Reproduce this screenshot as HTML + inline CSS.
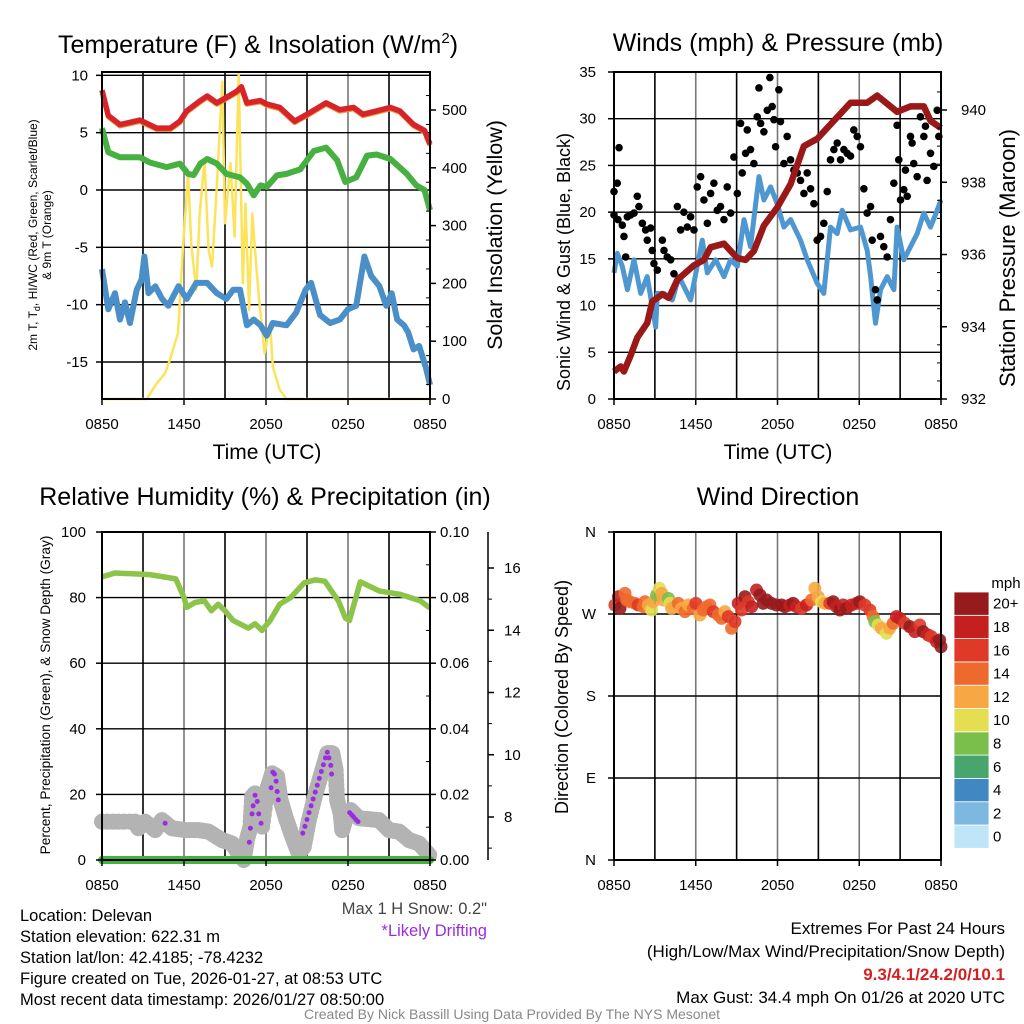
<!DOCTYPE html>
<html><head><meta charset="utf-8"><style>
html,body{margin:0;padding:0;background:#fff}
svg{display:block;font-family:"Liberation Sans",sans-serif}
</style></head><body>
<svg id="svg" width="1024" height="1024" viewBox="0 0 1024 1024" xmlns="http://www.w3.org/2000/svg">
<g id="g"></g>
</svg>
<script>
// ---------- DATA (hours since 0850 UTC) ----------
const xTickLabels = ["0850","1450","2050","0250","0850"];
const tempH = [0,0.46,1.32,2.78,4.0,5.0,5.7,6.2,7.2,7.7,8.4,9.0,9.85,10.2,10.6,11.6,12.05,13.0,14.1,15.0,16.4,17.4,18.4,19.1,20.1,21.1,21.8,22.8,23.6,24];
const tempV = [8.7,6.5,5.7,6.1,5.4,5.4,6.0,6.9,7.8,8.2,7.6,8.0,8.6,9.0,7.6,7.8,7.5,7.2,6.0,6.6,7.6,7.0,7.2,6.6,6.9,7.2,6.9,5.7,5.2,4.0];
const dewH = [0,0.46,1.32,2.78,3.5,4.73,5.7,6.3,6.7,7.2,7.7,8.4,9.1,10.1,10.6,11.1,11.6,12.05,12.8,13.5,14.5,15.5,16.4,17.2,17.8,18.6,19.4,20.1,21.1,22.3,23.0,23.6,24];
const dewV = [5.4,3.3,2.85,2.85,2.4,2.0,2.3,1.4,1.3,2.3,2.7,2.3,1.4,1.1,0.55,-0.46,0.4,0.26,1.27,1.4,1.8,3.4,3.7,2.6,0.7,1.1,3.0,3.1,2.7,1.4,0.4,0,-1.76];
const wcH = [0,0.46,0.95,1.32,1.68,2.05,2.54,2.9,3.1,3.4,3.9,4.4,4.85,5.6,6.2,6.9,7.7,8.4,9.1,9.6,10.1,10.6,11.1,11.6,12.05,12.5,13.5,14.2,14.9,15.3,15.95,16.7,17.4,18.0,18.6,19.2,19.7,20.3,20.8,21.2,21.6,22.1,22.4,22.8,23.2,23.7,24];
const wcV = [-6.9,-10.4,-9.0,-11.3,-9.8,-11.6,-8.7,-7.8,-5.8,-9.0,-8.4,-9.5,-10.1,-8.4,-9.5,-8.1,-8.1,-9.0,-9.5,-8.7,-8.7,-11.8,-11.3,-11.8,-12.7,-11.6,-11.8,-10.7,-8.7,-8.1,-10.9,-11.6,-11.3,-10.4,-10.1,-5.8,-7.5,-8.4,-10.1,-9.0,-11.3,-11.8,-12.4,-13.9,-13.6,-15.5,-17];
const solH = [0,3.27,4.0,4.6,4.95,5.56,5.93,6.3,6.54,6.9,7.15,7.5,7.8,8.05,8.4,8.8,9.0,9.4,9.7,10.0,10.3,10.5,10.76,11.0,11.25,11.5,11.9,12.3,12.5,13.0,13.5,24];
const solV = [0,0,27,44,67,114,264,390,264,189,321,413,258,229,367,549,304,408,281,563,200,338,154,321,240,171,79,131,56,16,0,0];
const xTicksH = [0,6,12,18,24];

const pressH = [0,0.49,0.73,1.22,1.71,2.44,2.81,3.55,4.03,4.65,5.87,6.6,7.09,8.07,9.05,9.66,10.27,11.0,11.98,12.96,13.94,14.91,15.89,17.36,18.58,19.32,20.78,21.76,22.74,23.23,24];
const pressV = [932.76,932.9,932.76,933.2,933.7,934.1,934.7,934.9,934.8,935.3,935.7,935.85,936.2,936.3,935.9,935.85,936.1,936.8,937.3,937.95,939.0,939.2,939.6,940.2,940.2,940.4,939.95,940.1,940.1,939.7,939.5];
const windH = [0,0.24,0.61,0.98,1.47,1.96,2.44,3.06,3.18,3.67,4.28,4.77,5.62,6.48,6.85,7.46,8.07,8.56,9.05,9.54,10.02,10.64,11.0,11.49,11.98,12.47,12.96,13.69,14.18,14.91,15.4,15.89,16.38,16.75,17.36,18.09,18.58,18.83,19.19,19.56,20.05,20.54,20.78,21.27,21.76,22.25,22.74,23.23,23.72,24];
const windV = [13.5,15.6,14.2,11.7,14.9,11.3,13.1,7.7,11.3,11.3,10.6,13.1,10.6,17,13.5,14.9,13.1,14.9,14.2,19.2,16.3,23.8,21.3,22.7,20.9,18.4,19.2,17.0,14.9,12.4,11.3,18.4,17.7,20.2,18.1,18.4,15.9,13.1,8.1,11.7,13.1,11.7,18.4,14.9,16.3,17.7,19.9,18.4,20.2,21.3];
const gustH = [0,0.24,0.37,0,0.29,0.61,0.73,0.86,0.98,1.22,1.47,1.71,1.83,2.08,2.32,2.44,2.69,2.81,2.93,3.18,3.55,3.67,3.91,4.16,4.4,4.65,4.89,5.13,5.38,5.62,5.87,6.11,6.36,6.6,6.85,7.09,7.33,7.58,7.82,8.07,8.31,8.56,8.8,9.05,9.29,9.41,9.66,9.78,10.02,10.27,10.51,10.64,10.76,11.0,11.25,11.44,11.61,11.74,11.86,12.1,12.22,12.47,12.71,12.96,13.2,13.45,13.69,13.94,14.18,14.43,14.67,14.91,15.16,15.4,15.65,15.89,16.14,16.38,16.63,16.87,17.11,17.36,17.6,17.85,18.09,18.34,18.58,18.83,18.95,19.19,19.32,19.56,19.8,20.05,20.29,20.54,20.78,20.9,21.03,21.27,21.39,21.52,21.76,21.88,22.0,22.25,22.49,22.74,22.86,22.98,23.23,23.47,23.72,23.84];
const gustV = [22.2,23.1,26.9,19.7,19.2,18.6,17.4,15.2,19.5,19.7,19.9,21.7,20.6,18.8,18.1,17.0,18.3,15.9,14.5,13.8,17.0,15.9,15.2,14.9,13.4,20.6,18.1,20.0,18.4,19.5,18.1,22.7,23.8,21.3,18.8,22.0,23.1,20.2,20.6,19.2,22.7,19.9,25.9,22.0,29.5,24.2,26.3,28.8,26.7,25.2,30.2,33.3,29.5,28.6,30.9,34.4,31.3,29.9,27.0,33.1,29.7,25.2,28.1,25.6,24.5,24.2,23.4,22.0,24.2,22.5,20.9,17.0,17.4,18.8,22.2,25.6,26.7,27.4,25.6,26.7,26.3,26.0,28.8,28.1,27.0,22.5,19.9,20.6,17.0,11.7,10.6,17.4,16.3,15.2,19.2,23.1,29.3,25.6,21.3,22.4,24.5,21.7,28.1,27.4,25.2,23.8,30.2,28.1,29.2,23.4,26.3,24.9,30.9,28.1];

const rhH = [0,0.95,3.5,5.4,6.0,6.2,6.8,7.5,8.0,8.5,9.0,9.6,10.7,11.2,11.7,12.3,13.0,13.8,14.8,15.6,16.3,17.3,17.8,18.1,18.9,20.3,21.8,23.3,24];
const rhV = [86.3,87.5,87,85.7,80,77,78.5,79,76,78,76,73,70.7,72,70,73,78,80,84.5,85.4,85,79,73.8,73,84.8,82,81,79,76.8];
const precipH = [0,24];
const precipV = [0,0];
const snowH = [0,2.42,2.66,3.15,3.89,4.38,5.11,6.09,7.07,7.8,8.78,9.51,10.0,10.37,10.6,10.86,10.98,11.2,11.47,11.72,12.08,12.45,12.82,13.06,13.43,13.92,14.4,14.77,15.14,15.63,16.12,16.49,16.85,17.1,17.2,17.46,17.58,17.95,18.2,18.8,20.27,21.0,21.74,22.47,23.2,23.94];
const snowV = [7.85,7.85,7.64,7.85,7.58,7.9,7.64,7.58,7.58,7.53,7.26,7.15,6.83,6.62,7.26,7.69,8.65,8.76,8.0,7.69,8.87,9.4,9.3,8.55,8.0,7.37,6.83,7.05,7.9,8.76,9.5,10.05,10.05,9.5,8.55,8.12,7.58,8.12,8.22,7.96,7.9,7.58,7.53,7.26,7.15,6.78];
const driftH = [4.62,10.78,10.86,10.98,11.06,11.2,11.36,11.47,11.64,12.37,12.5,12.62,12.74,12.82,12.9,14.69,14.85,15.0,15.15,15.3,15.45,15.6,15.75,15.9,16.05,16.2,16.35,16.49,16.61,16.74,16.8,18.12,18.27,18.41,18.57,18.73];
const driftV = [7.8,7.19,7.64,8.1,8.36,8.7,8.5,8.1,7.8,8.94,9.44,9.38,9.15,8.82,8.55,7.48,7.7,7.92,8.14,8.36,8.58,8.8,9.02,9.24,9.46,9.68,9.9,10.08,9.9,9.66,9.38,8.14,8.07,8.0,7.92,7.85];

const dirH = [0.07,0.32,0.44,0.81,0.93,1.17,1.54,1.78,2.15,2.27,2.52,2.76,2.89,3.13,3.33,3.5,3.62,3.99,4.11,4.23,4.47,4.72,4.96,5.21,5.45,5.82,6.01,6.31,6.55,6.8,7.04,7.29,7.65,7.9,8.14,8.39,8.63,8.88,9.12,9.36,9.61,9.85,10.1,10.46,10.71,10.95,11.2,11.56,11.93,12.3,12.54,12.91,13.15,13.4,13.77,14.13,14.5,14.74,14.99,15.23,15.48,15.84,16.09,16.33,16.58,16.82,17.07,17.43,17.8,18.04,18.41,18.78,19.02,19.14,19.39,19.63,20.0,20.24,20.49,20.73,20.98,21.34,21.71,22.08,22.44,22.69,23.06,23.3,23.67,23.9,24];
const dirV = [279.9,289,276.2,292.7,285.4,283.5,281.7,279.9,278,283.5,279.9,274.4,283.5,290.9,298.2,292.7,285.4,287.2,281.7,276.2,278,281.7,276.2,272.6,279.9,276.2,281.7,268.9,274.4,278,279.9,272.6,268.9,265.2,272.6,267.1,254.3,261.6,281.7,274.4,289,283.5,278,296.3,290.9,281.7,285.4,281.7,279.9,279.9,278,279.9,281.7,278,276.2,279.9,285.4,298.2,289,283.5,281.7,281.7,283.5,278,274.4,279.9,276.2,279.9,281.7,283.5,279.9,274.4,267.1,261.6,257.9,254.3,248.8,254.3,259.8,267.1,265.2,259.8,256.1,250.6,257.9,250.6,246.9,245.2,239.6,241.5,234];
const dirS = [16,18,20,14,14,14,14,16,14,14,12,10,12,8,10,12,12,8,10,12,12,14,12,14,12,14,16,12,14,14,14,16,14,14,12,16,14,16,18,16,20,16,18,18,20,20,20,20,20,20,20,18,20,18,16,18,14,12,12,10,12,16,20,18,20,18,20,18,18,20,16,16,14,8,10,12,10,12,14,18,18,16,20,18,16,20,18,16,18,20,20];

const speedBins = ["0","2","4","6","8","10","12","14","16","18","20+"];
const speedColors = ["#bfe6f8","#7cb8e0","#3f88c2","#48a66c","#7abf4c","#e4de50","#f7a743","#ee6a2c","#de3a27","#c52020","#971b1c"];
const footerLeft = ["Location: Delevan","Station elevation: 622.31 m","Station lat/lon: 42.4185; -78.4232","Figure created on Tue, 2026-01-27, at 08:53 UTC","Most recent data timestamp: 2026/01/27 08:50:00"];

// ---------- HELPERS ----------
const NS="http://www.w3.org/2000/svg";
const G=document.getElementById('g');
function el(tag,attrs,parent){const e=document.createElementNS(NS,tag);for(const k in attrs)e.setAttribute(k,attrs[k]);(parent||G).appendChild(e);return e;}
function txt(s,x,y,size,anchor,extra){const e=el('text',Object.assign({x:x,y:y,'font-size':size,'text-anchor':anchor||'middle',fill:'#000'},extra||{}));e.textContent=s;return e;}
function lin(d0,d1,p0,p1){return v=>p0+(v-d0)/(d1-d0)*(p1-p0);}
function pathFrom(hs,vs,sx,sy){return hs.map((h,i)=>(i?'L':'M')+sx(h).toFixed(1)+','+sy(vs[i]).toFixed(1)).join('');}

function frame(name,L,R,T,B,sx){
  const f=el('g',{});
  
  
  for(let h=3;h<24;h+=3){el('line',{x1:sx(h),x2:sx(h),y1:T,y2:B,stroke:h%6? '#000':'#777','stroke-width':1.6},f);}
  return f;
}
function box(L,R,T,B,name){const r=el('rect',{x:L,y:T,width:R-L,height:B-T,fill:'none',stroke:'#000','stroke-width':2});}
function xAxis(sx,B,name){
  const g=el('g',{});
  xTicksH.forEach((h,i)=>{el('line',{x1:sx(h),x2:sx(h),y1:B,y2:B+6,stroke:'#000','stroke-width':1.5},g);
   const t=txt(xTickLabels[i],sx(h),B+30,15,'middle');g.appendChild(t);});
}

// ================= PANEL 1: TEMPERATURE =================
{
const L=102,R=430,T=72,B=399;
const sx=lin(0,24,L,R), sy=lin(0,-15,190,362), sy2=lin(0,500,399,110);
frame('temperature-grid',L,R,T,B,sx);
[10,5,0,-5,-10,-15].forEach(v=>{el('line',{x1:L,x2:R,y1:sy(v),y2:sy(v),stroke:'#000','stroke-width':1.4});});
const sol=el('path',{d:pathFrom(solH,solV,sx,sy2),fill:'none',stroke:'#fbe35a','stroke-width':2.5,'stroke-linejoin':'round'});

const wc=el('path',{d:pathFrom(wcH,wcV,sx,sy),fill:'none',stroke:'#4a8fc8','stroke-width':6,'stroke-linejoin':'round'});

const dw=el('path',{d:pathFrom(dewH,dewV,sx,sy),fill:'none',stroke:'#46b040','stroke-width':6,'stroke-linejoin':'round'});

const t9=el('path',{d:pathFrom(tempH,tempV.map(v=>v-0.12),sx,sy),fill:'none',stroke:'#f0913a','stroke-width':5,'stroke-linejoin':'round'});

const t2=el('path',{d:pathFrom(tempH,tempV,sx,sy),fill:'none',stroke:'#d62428','stroke-width':5.5,'stroke-linejoin':'round'});

box(L,R,T,B,'temperature-plot-frame');
[10,5,0,-5,-10,-15].forEach(v=>{el('line',{x1:L-6,x2:L,y1:sy(v),y2:sy(v),stroke:'#000','stroke-width':1.5});txt(String(v),L-14,sy(v)+5,15,'end');});
[0,100,200,300,400,500].forEach(v=>{el('line',{x1:R,x2:R+6,y1:sy2(v),y2:sy2(v),stroke:'#000','stroke-width':1.5});txt(String(v),R+12,sy2(v)+5,15,'start');});
for(let v=25;v<560;v+=50){el('line',{x1:R-4,x2:R,y1:sy2(v),y2:sy2(v),stroke:'#000','stroke-width':1});}
xAxis(sx,B,'temperature-x-axis');
const tt=txt('Temperature (F) & Insolation (W/m',258,53,25,'middle');

const sup=el('tspan',{dy:-10,'font-size':15},tt);sup.textContent='2';
const cp=el('tspan',{dy:10},tt);cp.textContent=')';
txt('Time (UTC)',267,459,21,'middle');
const yl=el('text',{transform:'translate(37,235) rotate(-90)','font-size':12,'text-anchor':'middle'});

const a1=el('tspan',{},yl);a1.textContent='2m T, T';
const a2=el('tspan',{dy:3,'font-size':9},yl);a2.textContent='d';
const a3=el('tspan',{dy:-3},yl);a3.textContent=', HI/WC (Red, Green, Scarlet/Blue)';
const yl2=el('text',{transform:'translate(51,235) rotate(-90)','font-size':12,'text-anchor':'middle'});yl2.textContent='& 9m T (Orange)';
const yr=el('text',{transform:'translate(502,235) rotate(-90)','font-size':21.5,'text-anchor':'middle'});yr.textContent='Solar Insolation (Yellow)';

}

// ================= PANEL 2: WINDS =================
{
const L=614,R=941,T=72,B=399;
const sx=lin(0,24,L,R), sy=lin(0,35,399,72), sp=lin(932,940,399,110);
frame('winds-grid',L,R,T,B,sx);
[5,10,15,20,25,30,35].forEach(v=>{el('line',{x1:L,x2:R,y1:sy(v),y2:sy(v),stroke:'#000','stroke-width':1.4});});
const w=el('path',{d:pathFrom(windH,windV,sx,sy),fill:'none',stroke:'#4e97d0','stroke-width':5,'stroke-linejoin':'round'});

gustH.forEach((h,i)=>{const c=el('circle',{cx:sx(h),cy:sy(gustV[i]),r:3.8,fill:'#000'});
 
 });
const p=el('path',{d:pathFrom(pressH,pressV,sx,sp),fill:'none',stroke:'#9b1818','stroke-width':6.5,'stroke-linejoin':'round'});

box(L,R,T,B,'winds-plot-frame');
[0,5,10,15,20,25,30,35].forEach(v=>{el('line',{x1:L-6,x2:L,y1:sy(v),y2:sy(v),stroke:'#000','stroke-width':1.5});txt(String(v),L-18,sy(v)+5,15,'end');});
[932,934,936,938,940].forEach(v=>{el('line',{x1:R,x2:R+6,y1:sp(v),y2:sp(v),stroke:'#000','stroke-width':1.5});txt(String(v),R+20,sp(v)+5,15,'start');});
for(let v=932.5;v<941;v+=0.5){if(v%2)el('line',{x1:R-4,x2:R,y1:sp(v),y2:sp(v),stroke:'#000','stroke-width':1});}
xAxis(sx,B,'winds-x-axis');
const tt=txt('Winds (mph) & Pressure (mb)',778,51,25,'middle');
txt('Time (UTC)',778,459,21,'middle');
const yl=el('text',{transform:'translate(570,262) rotate(-90)','font-size':18,'text-anchor':'middle'});yl.textContent='Sonic Wind & Gust (Blue, Black)';

const yr=el('text',{transform:'translate(1015,258) rotate(-90)','font-size':22,'text-anchor':'middle'});yr.textContent='Station Pressure (Maroon)';

}

// ================= PANEL 3: RH =================
{
const L=102,R=430,T=532,B=860;
const sx=lin(0,24,L,R), sy=lin(0,100,860,532), spr=lin(0,0.1,860,532), ss=lin(8,16,817,568);
frame('rh-grid',L,R,T,B,sx);
[20,40,60,80].forEach(v=>{el('line',{x1:L,x2:R,y1:sy(v),y2:sy(v),stroke:'#000','stroke-width':1.4});});
const sg=el('g',{});
for(let i=0;i<snowH.length-1;i++){const n=6;for(let k=0;k<n;k++){const t=k/n;const h=snowH[i]+(snowH[i+1]-snowH[i])*t;const v=snowV[i]+(snowV[i+1]-snowV[i])*t;
 el('circle',{cx:sx(h),cy:ss(v),r:8,fill:'#b3b3b3'},sg);}}
el('circle',{cx:sx(snowH[snowH.length-1]),cy:ss(snowV[snowV.length-1]),r:8,fill:'#b3b3b3'},sg);
const pr=el('path',{d:pathFrom(precipH,precipV,sx,spr),fill:'none',stroke:'#46b040','stroke-width':8,'stroke-linecap':'round'});

driftH.forEach((h,i)=>{const c=el('circle',{cx:sx(h),cy:ss(driftV[i]),r:2.5,fill:'#9a2de0'});
 
 });
const rh=el('path',{d:pathFrom(rhH,rhV,sx,sy),fill:'none',stroke:'#8cc44a','stroke-width':5.5,'stroke-linejoin':'round'});

box(L,R,T,B,'rh-plot-frame');
[0,20,40,60,80,100].forEach(v=>{el('line',{x1:L-6,x2:L,y1:sy(v),y2:sy(v),stroke:'#000','stroke-width':1.5});txt(String(v),L-16,sy(v)+5,15,'end');});
[0,0.02,0.04,0.06,0.08,0.1].forEach(v=>{el('line',{x1:R,x2:R+6,y1:spr(v),y2:spr(v),stroke:'#000','stroke-width':1.5});txt(v.toFixed(2),R+10,spr(v)+5,15,'start');});
for(let v=0.01;v<0.1;v+=0.02){el('line',{x1:R-4,x2:R,y1:spr(v),y2:spr(v),stroke:'#000','stroke-width':1});}
const sa=el('line',{x1:488,x2:488,y1:532,y2:860,stroke:'#000','stroke-width':1.5});
[8,10,12,14,16].forEach(v=>{el('line',{x1:488,x2:494,y1:ss(v),y2:ss(v),stroke:'#000','stroke-width':1.5});txt(String(v),504,ss(v)+5,15,'start');});
for(let v=7;v<17;v+=2){el('line',{x1:488,x2:492,y1:ss(v),y2:ss(v),stroke:'#000','stroke-width':1});}
xAxis(sx,B,'rh-x-axis');
const tt=txt('Relative Humidity (%) & Precipitation (in)',265,505,25,'middle');
const yl=el('text',{transform:'translate(50,695) rotate(-90)','font-size':13.7,'text-anchor':'middle'});yl.textContent='Percent, Precipitation (Green), & Snow Depth (Gray)';

const ms=txt('Max 1 H Snow: 0.2"',487,914,16.5,'end',{fill:'#444'});
const ld=txt('*Likely Drifting',487,936,16.5,'end',{fill:'#9a2de0'});
}

// ================= PANEL 4: WIND DIRECTION =================
{
const L=614,R=941,T=532,B=860;
const sx=lin(0,24,L,R), sy=lin(0,360,860,532);
frame('direction-grid',L,R,T,B,sx);
[90,180,270].forEach(v=>{el('line',{x1:L,x2:R,y1:sy(v),y2:sy(v),stroke:'#000','stroke-width':1.4});});
function colorFor(s){let i=Math.min(10,Math.max(0,Math.floor(s/2)));return speedColors[i];}
dirH.forEach((h,i)=>{const c=el('circle',{cx:sx(h),cy:sy(dirV[i]),r:6.5,fill:colorFor(dirS[i]),'fill-opacity':0.9});
 
 });
box(L,R,T,B,'direction-plot-frame');
const dl=["N","E","S","W","N"];[0,90,180,270,360].forEach((v,i)=>{el('line',{x1:L-6,x2:L,y1:sy(v),y2:sy(v),stroke:'#000','stroke-width':1.5});txt(dl[i],L-18,sy(v)+5,15,'end');});
xAxis(sx,B,'direction-x-axis');
const tt=txt('Wind Direction',778,505,25,'middle');
const yl=el('text',{transform:'translate(568,697) rotate(-90)','font-size':18,'text-anchor':'middle'});yl.textContent='Direction (Colored By Speed)';

const cb=el('g',{});
const top=592,hh=23.3;
speedBins.forEach((b,i)=>{const j=10-i;const y=top+j*hh;
 el('rect',{x:954,y:y,width:35,height:hh,fill:speedColors[i],stroke:'#fff','stroke-width':0.8},cb);
 const t=txt(b,993,y+hh/2+5,15,'start');cb.appendChild(t);});
const mph=txt('mph',1006,588,15,'middle');
}

// ================= FOOTER =================
footerLeft.forEach((s,i)=>{const t=txt(s,20,921+i*21,16.5,'start');});
const r1=txt('Extremes For Past 24 Hours',1005,934,17,'end');
const r2=txt('(High/Low/Max Wind/Precipitation/Snow Depth)',1005,957,17,'end');
const r3=txt('9.3/4.1/24.2/0/10.1',1005,980,17,'end',{fill:'#d42020','font-weight':'bold'});
const r4=txt('Max Gust: 34.4 mph On 01/26 at 2020 UTC',1005,1003,17,'end');
const cr=txt('Created By Nick Bassill Using Data Provided By The NYS Mesonet',512,1019,14,'middle',{fill:'#888'});
</script>
</body></html>
